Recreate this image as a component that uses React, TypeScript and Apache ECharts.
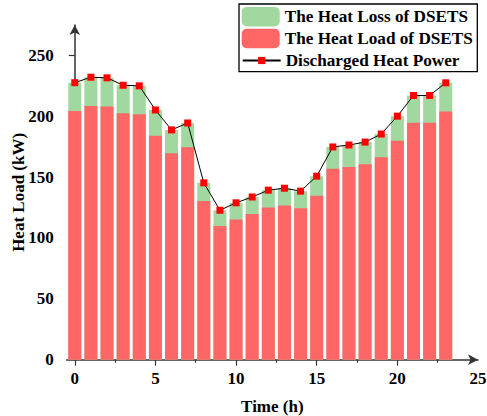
import React, { useEffect, useRef } from "react";
import * as echarts from "echarts";

const hours = [0, 1, 2, 3, 4, 5, 6, 7, 8, 9, 10, 11, 12, 13, 14, 15, 16, 17, 18, 19, 20, 21, 22, 23];
const heatLoad = [204.4, 208.5, 208, 202.5, 201.7, 184.1, 169.6, 174.6, 130.4, 109.9, 115.1, 119.8, 125, 126.6, 124.4, 134.8, 156.8, 158.4, 160.6, 166.4, 179.8, 194.6, 194.6, 203.9];
const heatLoss = [23.2, 23.6, 23.6, 23.0, 23.3, 21.1, 19.2, 19.9, 14.9, 12.9, 13.8, 13.9, 14.3, 14.3, 14.1, 16.0, 18.0, 18.0, 18.2, 19.0, 20.3, 22.5, 22.5, 23.6];
const discharged = [227.6, 232.1, 231.6, 225.5, 225, 205.2, 188.8, 194.5, 145.3, 122.8, 128.9, 133.7, 139.3, 140.9, 138.5, 150.8, 174.8, 176.4, 178.8, 185.4, 200.1, 217.1, 217.1, 227.5];
const xMajor = [0, 5, 10, 15, 20];
const xLabels = [0, 5, 10, 15, 20, 25];
const xMinor = [2.5, 7.5, 12.5, 17.5, 22.5];
const yMajor = [0, 50, 100, 150, 200, 250];
const yMinor = [25, 75, 125, 175, 225];

const FONT = "Liberation Serif";

export default function App() {
  const ref = useRef<HTMLDivElement>(null);
  useEffect(() => {
    if (!ref.current) return;
    const chart = echarts.init(ref.current, null, { renderer: "svg" });
    const axisColor = "#333";
    const labelStyle = { fontFamily: FONT, fontWeight: "bold" as const, fontSize: 17, color: "#000" };
    const legendText = { fontFamily: FONT, fontWeight: "bold" as const, fontSize: 17.2, color: "#000" };
    chart.setOption({
      animation: false,
      backgroundColor: "#fff",
      grid: { left: 66.7, right: 9, top: 25, bottom: 56.3, containLabel: false, outerBoundsMode: "none" },
      legend: [
        {
          data: ["The Heat Loss of DSETS", "The Heat Load of DSETS"],
          orient: "vertical",
          left: 241.7,
          top: 7,
          padding: 0,
          itemWidth: 38,
          itemHeight: 19.5,
          itemGap: 2.3,
          textStyle: legendText,
        },
        {
          data: ["Discharged Heat Power"],
          orient: "vertical",
          left: 241.7,
          top: 52,
          padding: 0,
          itemWidth: 38,
          itemHeight: 9,
          textStyle: legendText,
        },
      ],
      graphic: [
        {
          type: "rect",
          shape: { x: 239, y: 4, width: 238.3, height: 67.7 },
          style: { fill: "none", stroke: "#000", lineWidth: 1.3 },
          silent: true,
        },
      ],
      xAxis: [
        {
          type: "value",
          min: -0.5,
          max: 25,
          name: "Time (h)",
          nameLocation: "middle",
          nameGap: 38.5,
          nameMoveOverlap: false,
          nameTextStyle: { ...labelStyle },
          axisLine: {
            show: true,
            onZero: false,
            symbol: ["none", "arrow"],
            symbolSize: [8, 10],
            lineStyle: { color: axisColor, width: 1.5 },
          },
          axisTick: { show: true, customValues: xMajor, length: 6, lineStyle: { color: axisColor, width: 1.2 } },
          axisLabel: { customValues: xLabels, margin: 10, ...labelStyle },
          splitLine: { show: false },
        },
        {
          type: "value",
          min: -0.5,
          max: 25,
          position: "bottom",
          axisLine: { show: false, onZero: false },
          axisTick: { show: true, customValues: xMinor, length: 3, lineStyle: { color: axisColor, width: 1.2 } },
          axisLabel: { show: false },
          splitLine: { show: false },
        },
      ],
      yAxis: [
        {
          type: "value",
          min: 0,
          max: 275,
          name: "Heat Load (kW)",
          nameLocation: "middle",
          nameGap: 40,
          nameMoveOverlap: false,
          nameTextStyle: { ...labelStyle },
          axisLine: {
            show: true,
            symbol: ["none", "arrow"],
            symbolSize: [8, 10],
            lineStyle: { color: axisColor, width: 1.5 },
          },
          axisTick: { show: true, customValues: yMajor, length: 6, lineStyle: { color: axisColor, width: 1.2 } },
          axisLabel: { customValues: yMajor, margin: 13, ...labelStyle },
          splitLine: { show: false },
        },
        {
          type: "value",
          min: 0,
          max: 275,
          position: "left",
          axisLine: { show: false },
          axisTick: { show: true, customValues: yMinor, length: 3, lineStyle: { color: axisColor, width: 1.2 } },
          axisLabel: { show: false },
          splitLine: { show: false },
        },
      ],
      series: [
        {
          name: "The Heat Loss of DSETS",
          type: "bar",
          xAxisIndex: 0,
          yAxisIndex: 0,
          barWidth: 13,
          barGap: "-100%",
          itemStyle: { color: "#A0D8A0" },
          data: hours.map((h, i) => [h, heatLoad[i] + heatLoss[i]]),
        },
        {
          name: "The Heat Load of DSETS",
          type: "bar",
          xAxisIndex: 0,
          yAxisIndex: 0,
          barWidth: 13,
          barGap: "-100%",
          itemStyle: { color: "#FF6666" },
          data: hours.map((h, i) => [h, heatLoad[i]]),
        },
        {
          name: "Discharged Heat Power",
          type: "line",
          xAxisIndex: 0,
          yAxisIndex: 0,
          symbol: "rect",
          symbolSize: 7,
          itemStyle: { color: "#FF0000" },
          lineStyle: { color: "#000", width: 1 },
          z: 5,
          data: hours.map((h, i) => [h, discharged[i]]),
        },
      ],
    });
    return () => chart.dispose();
  }, []);
  return <div ref={ref} style={{ width: 487, height: 416, position: "absolute", left: 0, top: 0 }} />;
}
